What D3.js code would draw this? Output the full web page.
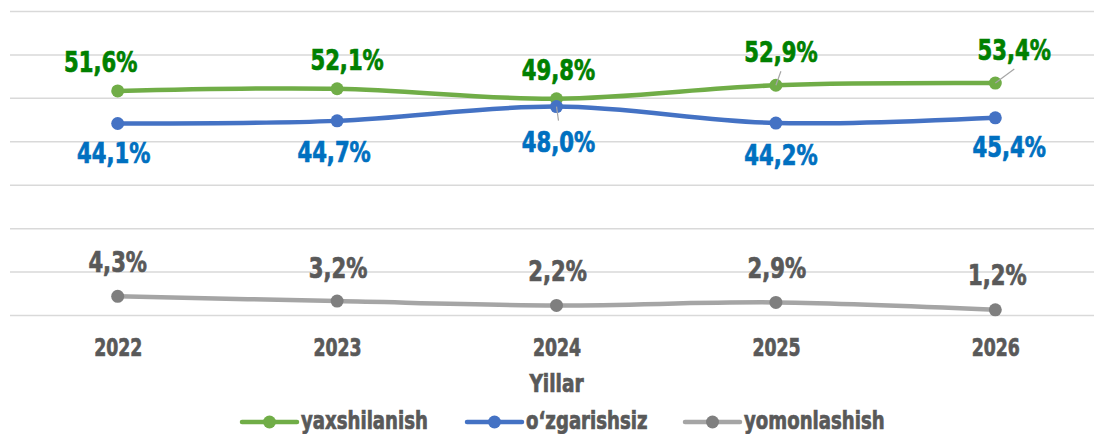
<!DOCTYPE html>
<html>
<head>
<meta charset="utf-8">
<script src="https://cdn.jsdelivr.net/npm/d3@7"></script>
<style>
  body { margin: 0; background: #fff; }
  text { font-family: "DejaVu Sans Condensed", "DejaVu Sans", sans-serif; font-weight: bold; }
</style>
</head>
<body>
<svg id="drawspace" width="1094" height="434"></svg>
<script>
// chart data
const years = ["2022", "2023", "2024", "2025", "2026"];
const yaxshilanish = [51.6, 52.1, 49.8, 52.9, 53.4];
const ozgarishsiz = [44.1, 44.7, 48.0, 44.2, 45.4];
const yomonlashish = [4.3, 3.2, 2.2, 2.9, 1.2];
const seriesNames = ["yaxshilanish", "o‘zgarishsiz", "yomonlashish"];
const yTicks = [0, 10, 20, 30, 40, 50, 60, 70];
const axisTitle = "Yillar";

let drawSpace = d3.select("#drawspace");

// colours: line, marker, label
const lineColors = ["#70AD47", "#4472C4", "#A5A5A5"];
const markColors = ["#70AD47", "#4472C4", "#7F7F7F"];
const labelColors = ["#008000", "#0070C0", "#595959"];

// label offsets from the point (label centre x, baseline y), as placed in the original
const labelShift = [
  [[-17, -19], [10, -19], [2, -19], [5, -23], [19, -23]],
  [[-4, 40], [-3, 41], [2, 45], [5, 42], [14, 39]],
  [[0, -24], [1, -23], [1, -24], [1, -24], [2, -25]]
];
// which labels get a leader line
const leader = [
  [false, false, false, true, true],
  [false, false, true, false, false],
  [false, false, false, false, false]
];

// the original font is a tall, heavy condensed face: squeeze and thicken the text
function squeeze(sel, sx) {
  sel.each(function () {
    let t = d3.select(this);
    let tx = +t.attr("x") || 0, ty = +t.attr("y") || 0;
    t.attr("x", 0).attr("y", 0)
      .attr("transform", `translate(${tx},${ty}) scale(${sx},1)`)
      .attr("stroke", t.attr("fill"))
      .attr("stroke-width", 0.7);
  });
}

let x = d3.scalePoint().domain(years).range([8, 1105]).padding(0.5);
let y = d3.scaleLinear().domain([0, 70]).range([315, 11]);

// gridlines
let grid = drawSpace.append("g")
  .attr("transform", "translate(10,0)")
  .call(d3.axisLeft(y).tickValues(yTicks).tickSize(-1100).tickFormat(""));
grid.select(".domain").remove();
grid.selectAll("line").attr("stroke", "#D9D9D9").attr("stroke-width", 1.5);

// category axis labels
let xAxis = drawSpace.append("g")
  .attr("transform", "translate(0,315)")
  .call(d3.axisBottom(x).tickSize(0).tickPadding(24));
xAxis.select(".domain").remove();
xAxis.selectAll("text")
  .attr("fill", "#595959")
  .style("font-size", "24px")
  .call(squeeze, 0.8);

drawSpace.append("text")
  .attr("x", x("2024"))
  .attr("y", 392)
  .attr("text-anchor", "middle")
  .attr("fill", "#595959")
  .style("font-size", "24px")
  .text(axisTitle)
  .call(squeeze, 0.86);

let allSeries = [yaxshilanish, ozgarishsiz, yomonlashish];
let fmt = (v) => d3.format(".1f")(v).replace(".", ",") + "%";

let line = d3.line()
  .x((d, i) => x(years[i]))
  .y((d) => y(d))
  .curve(d3.curveCatmullRom.alpha(0));

allSeries.forEach((vals, s) => {
  let g = drawSpace.append("g");
  g.append("path")
    .attr("d", line(vals))
    .attr("fill", "none")
    .attr("stroke", lineColors[s])
    .attr("stroke-width", 4.5)
    .attr("stroke-linecap", "round");

  g.selectAll("circle")
    .data(vals)
    .enter()
    .append("circle")
    .attr("cx", (d, i) => x(years[i]))
    .attr("cy", (d) => y(d))
    .attr("r", 6.5)
    .attr("fill", markColors[s]);

  // leader lines
  vals.forEach((d, i) => {
    if (!leader[s][i]) return;
    let px = x(years[i]), py = y(d);
    let sh = labelShift[s][i];
    let ey = sh[1] < 0 ? py + sh[1] + 9 : py + sh[1] - 31;
    g.append("line")
      .attr("x1", px).attr("y1", py)
      .attr("x2", px + sh[0]).attr("y2", ey)
      .attr("stroke", "#A6A6A6")
      .attr("stroke-width", 1.2);
  });

  g.selectAll(".lbl")
    .data(vals)
    .enter()
    .append("text")
    .attr("class", "lbl")
    .attr("x", (d, i) => x(years[i]) + labelShift[s][i][0])
    .attr("y", (d, i) => y(d) + labelShift[s][i][1])
    .attr("text-anchor", "middle")
    .attr("fill", labelColors[s])
    .style("font-size", "28px")
    .text((d) => fmt(d))
    .call(squeeze, 0.84);
});

// legend
const legendX = [242, 467, 685];
let legend = drawSpace.append("g").attr("transform", "translate(0,422)");
seriesNames.forEach((name, s) => {
  let lx = legendX[s];
  legend.append("line")
    .attr("x1", lx).attr("x2", lx + 55)
    .attr("y1", 0).attr("y2", 0)
    .attr("stroke", lineColors[s])
    .attr("stroke-width", 4.5)
    .attr("stroke-linecap", "round");
  legend.append("circle")
    .attr("cx", lx + 27.5).attr("cy", 0)
    .attr("r", 6.5)
    .attr("fill", markColors[s]);
  legend.append("text")
    .attr("x", lx + 59)
    .attr("y", 7)
    .attr("fill", "#595959")
    .style("font-size", "24px")
    .text(name)
    .call(squeeze, 0.84);
});
</script>
</body>
</html>
